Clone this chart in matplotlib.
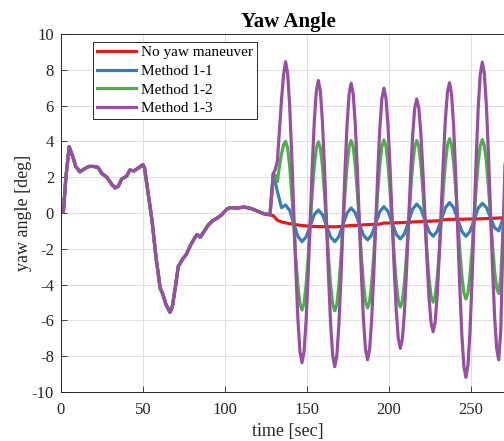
import numpy as np
import matplotlib.pyplot as plt

# Common part (before the yaw maneuver starts) - all cases overlap
t_pre = [0, 1.5, 3, 5, 7, 9, 11.5, 14, 17, 20, 22.5, 25, 28, 31, 33, 35, 37, 40,
         42, 44.5, 47, 50, 51, 53, 55.5, 58, 60.5, 62, 64, 66.5, 68, 70, 71.5,
         74, 76.5, 79, 81.5, 83, 85, 87.5, 90, 93, 95, 98, 101, 103, 107, 112,
         116, 120, 124, 127.5]
yaw_pre = [0, 0.1, 2.0, 3.7, 3.2, 2.6, 2.3, 2.45, 2.6, 2.6, 2.55, 2.2, 2.0, 1.6,
           1.4, 1.5, 1.9, 2.05, 2.4, 2.35, 2.5, 2.7, 2.5, 1.2, -0.4, -2.5, -4.2,
           -4.5, -5.1, -5.55, -5.2, -4.0, -3.0, -2.6, -2.3, -1.8, -1.4, -1.2,
           -1.35, -1.0, -0.65, -0.4, -0.3, -0.1, 0.2, 0.3, 0.28, 0.33, 0.25,
           0.1, -0.05, -0.1]

# After maneuver start
t_coarse = list(np.arange(129.5, 277.01, 2.5))   # no maneuver, method 1-1
t_fine = list(np.arange(129.5, 277.01, 1.25))    # method 1-2, method 1-3

yaw_none = [-0.15, -0.4, -0.5, -0.55, -0.6, -0.62, -0.67, -0.7, -0.72, -0.74,
            -0.75, -0.76, -0.76, -0.76, -0.77, -0.77, -0.76, -0.74, -0.72, -0.7,
            -0.69, -0.68, -0.66, -0.65, -0.64, -0.63, -0.62, -0.56, -0.56, -0.55,
            -0.55, -0.54, -0.53, -0.52, -0.5, -0.49, -0.48, -0.47, -0.46, -0.45,
            -0.44, -0.4, -0.37, -0.36, -0.35, -0.35, -0.35, -0.34, -0.34, -0.33,
            -0.33, -0.32, -0.31, -0.3, -0.29, -0.28, -0.27, -0.26, -0.25, -0.25]

yaw_m11 = [2.2, 1.2, 0.3, 0.45, 0.15, -0.58, -1.3, -1.6, -1.34, -0.72,
           -0.09, 0.17, -0.09, -0.72, -1.34, -1.6, -1.32, -0.66, 0.0, 0.28,
           0.02, -0.61, -1.24, -1.5, -1.23, -0.58, 0.08, 0.35, 0.09, -0.55,
           -1.19, -1.45, -1.17, -0.48, 0.22, 0.5, 0.24, -0.4, -1.04, -1.3,
           -1.02, -0.36, 0.3, 0.58, 0.3, -0.36, -1.02, -1.3, -1.03, -0.38,
           0.27, 0.54, 0.31, -0.26, -0.82, -1.0, -0.35, 0.1, 0.4, 0.5]

yaw_m12 = [2.2, 2.1, 1.75, 2.6, 3.3, 3.8,
           4.0, 3.64, 2.62, 1.09, -0.71, -2.51, -4.04, -5.06,
           -5.42, -5.06, -4.04, -2.52, -0.72, 1.08, 2.6, 3.62,
           3.98, 3.62, 2.6, 1.07, -0.74, -2.55, -4.08, -5.1,
           -5.46, -5.1, -4.07, -2.53, -0.71, 1.12, 2.66, 3.69,
           4.05, 3.7, 2.68, 1.17, -0.63, -2.42, -3.93, -4.95,
           -5.3, -4.94, -3.93, -2.41, -0.61, 1.19, 2.71, 3.72,
           4.08, 3.73, 2.71, 1.2, -0.59, -2.38, -3.88, -4.9,
           -5.25, -4.9, -3.89, -2.38, -0.6, 1.18, 2.69, 3.7,
           4.05, 3.71, 2.73, 1.27, -0.47, -2.2, -3.66, -4.64,
           -4.98, -4.64, -3.64, -2.17, -0.42, 1.34, 2.81, 3.8,
           4.15, 3.81, 2.84, 1.39, -0.33, -2.04, -3.49, -4.46,
           -4.8, -4.46, -3.5, -2.05, -0.35, 1.35, 2.8, 3.76,
           4.1, 3.77, 2.84, 1.45, -0.2, -1.85, -3.24, -4.17,
           -4.5, -3.6, -1.2, 1.0, 2.6, 3.6, 4.0, 3.9, 3.4]

yaw_m13 = [2.2, 2.45, 2.9, 4.6, 6.3, 7.7,
           8.45, 7.81, 5.98, 3.27, 0.05, -3.18, -5.9, -7.72,
           -8.36, -7.76, -6.05, -3.5, -0.48, 2.54, 5.09, 6.8,
           7.4, 6.79, 5.06, 2.47, -0.59, -3.65, -6.24, -7.97,
           -8.58, -7.98, -6.27, -3.7, -0.67, 2.37, 4.93, 6.65,
           7.25, 6.66, 4.99, 2.48, -0.48, -3.43, -5.94, -7.61,
           -8.2, -7.63, -5.98, -3.52, -0.62, 2.29, 4.75, 6.4,
           6.97, 6.42, 4.84, 2.49, -0.3, -3.08, -5.43, -7.01,
           -7.56, -7.03, -5.52, -3.26, -0.6, 2.07, 4.33, 5.84,
           6.37, 5.88, 4.47, 2.36, -0.13, -2.62, -4.73, -6.14,
           -6.63, -6.1, -4.59, -2.34, 0.33, 2.99, 5.24, 6.75,
           7.28, 6.65, 4.87, 2.2, -0.95, -4.1, -6.77, -8.55,
           -9.18, -8.51, -6.6, -3.75, -0.38, 2.99, 5.84, 7.75,
           8.42, 7.79, 5.99, 3.29, 0.11, -3.07, -5.77, -7.57,
           -8.2, -6.6, -1.8, 2.5, 5.0, 6.6, 7.3, 7.2, 6.4]

labels = ["No yaw maneuver", "Method 1-1", "Method 1-2", "Method 1-3"]
colors = ["#E41A1C", "#377EB8", "#4DAF4A", "#984EA3"]

plt.rcParams['font.family'] = ['Liberation Serif', 'DejaVu Serif']
plt.rcParams['axes.unicode_minus'] = False

series = [(t_coarse, yaw_none), (t_coarse, yaw_m11),
          (t_fine, yaw_m12), (t_fine, yaw_m13)]

fig = plt.figure(figsize=(5.04, 4.41), dpi=100)
# axes runs past the right border of the picture (cropped original)
ax = fig.add_axes([0.121, 0.111, 0.901, 0.812])

for (tp, ys), lab, col in zip(series, labels, colors):
    ax.plot(t_pre + tp, yaw_pre + ys, color=col, lw=2.3, label=lab)

ax.set_xlim(0, 277)
ax.set_ylim(-10, 10)
ax.set_xticks(np.arange(0, 300, 50))
ax.set_yticks(np.arange(-10, 11, 2))
ax.grid(True, color='#dedede', lw=0.7)
ax.set_axisbelow(True)
ax.tick_params(direction='in', length=4, width=0.6, labelsize=12,
               colors='#262626')
ax.tick_params(axis='x', pad=7)
ax.tick_params(axis='y', pad=5)
for sp in ax.spines.values():
    sp.set_color('#262626')
    sp.set_linewidth(0.7)

ax.set_xlabel("time [sec]", fontsize=13, color='#262626', labelpad=4)
ax.set_ylabel("yaw angle [deg]", fontsize=13, color='#262626', labelpad=-0.5)
ax.set_title("Yaw Angle", fontsize=15, fontweight='bold', pad=5)

leg = ax.legend(loc='upper left', bbox_to_anchor=(0.07, 0.978), fontsize=11,
                handlelength=2.6, handletextpad=0.3, labelspacing=0.32,
                borderpad=0.25, borderaxespad=0, fancybox=False, framealpha=1)
leg.get_frame().set_edgecolor('#262626')
leg.get_frame().set_linewidth(0.7)

fig.savefig("out.png", dpi=100)
